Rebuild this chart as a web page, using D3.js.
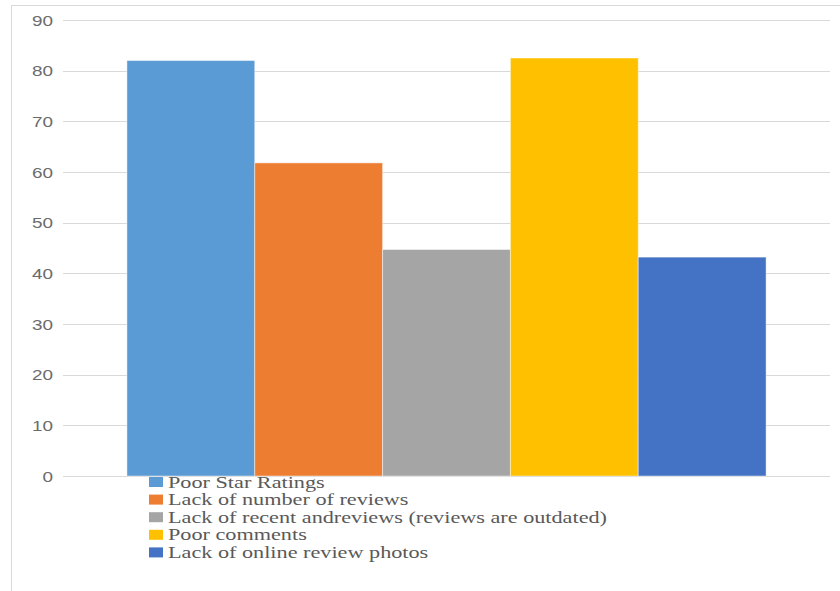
<!DOCTYPE html>
<html>
<head>
<meta charset="utf-8">
<script src="https://cdn.jsdelivr.net/npm/d3@7"></script>
<style>
  html, body { margin: 0; padding: 0; background: #fff; }
  svg { display: block; }
</style>
</head>
<body>
<svg id="chart" width="840" height="591"></svg>
<script>
// Survey responses: reasons for distrusting a business's online reviews
const seriesNames = [
  "Poor Star Ratings",
  "Lack of number of reviews",
  "Lack of recent andreviews (reviews are outdated)",
  "Poor comments",
  "Lack of online review photos"
];
const seriesValues = [82.0, 61.8, 44.7, 82.5, 43.2];
const seriesColors = ["#5B9BD5", "#ED7D31", "#A5A5A5", "#FFC000", "#4472C4"];
const yTicks = [0, 10, 20, 30, 40, 50, 60, 70, 80, 90];

const svg = d3.select("#chart");
const W = 840, H = 591;

// chart-area border (left and top edges visible)
svg.append("rect")
  .attr("x", 11.5).attr("y", 5.5)
  .attr("width", W + 20).attr("height", H + 20)
  .attr("fill", "none").attr("stroke", "#d9d9d9").attr("stroke-width", 1);

const plot = { left: 63, right: 830, top: 20, bottom: 476 };

const y = d3.scaleLinear().domain([0, 90]).range([plot.bottom, plot.top]);

// one category holding five clustered series
const xGroup = d3.scaleBand().domain(["all"]).range([plot.left, plot.right]).paddingInner(0).paddingOuter(0.1);
const xSeries = d3.scaleBand().domain(seriesNames).range([xGroup("all"), xGroup("all") + xGroup.bandwidth()]).padding(0);

// gridlines
const grid = svg.append("g");
grid.selectAll("line").data(yTicks).join("line")
  .attr("x1", plot.left).attr("x2", plot.right)
  .attr("y1", d => Math.round(y(d)) + 0.5).attr("y2", d => Math.round(y(d)) + 0.5)
  .attr("stroke", "#d9d9d9").attr("stroke-width", 1);

// y axis labels
const yAxis = d3.axisLeft(y).tickValues(yTicks).tickSize(0).tickPadding(0);
const yg = svg.append("g").attr("transform", `translate(${plot.left - 10},0)`).call(yAxis);
yg.select(".domain").remove();
yg.selectAll("text")
  .attr("fill", "#6b6b6b")
  .style("font-family", "'Liberation Sans', Arial, sans-serif")
  .style("font-size", "15px")
  .attr("dy", "0.35em")
  .attr("textLength", d => d >= 10 ? 21 : 10.5)
  .attr("lengthAdjust", "spacingAndGlyphs");

// bars
svg.append("g").selectAll("rect").data(seriesNames).join("rect")
  .attr("x", d => xSeries(d))
  .attr("width", xSeries.bandwidth())
  .attr("y", (d, i) => y(seriesValues[i]))
  .attr("height", (d, i) => y(0) - y(seriesValues[i]))
  .attr("fill", (d, i) => seriesColors[i])
  .attr("stroke", "rgba(255,255,255,0.45)")
  .attr("stroke-width", 1);

// legend
const legend = svg.append("g").attr("transform", "translate(149,482)");
const rowH = 17.6;
const items = legend.selectAll("g").data(seriesNames).join("g")
  .attr("transform", (d, i) => `translate(0,${i * rowH})`);
items.append("rect")
  .attr("x", 0).attr("y", -5).attr("width", 14).attr("height", 10)
  .attr("fill", (d, i) => seriesColors[i]);
const labels = items.append("text")
  .attr("x", 19).attr("y", 0).attr("dy", "0.35em")
  .attr("fill", "#595959")
  .style("font-family", "'Liberation Serif', 'Times New Roman', serif")
  .style("font-size", "16px")
  .text(d => d);
// stretch legend text horizontally so the longest label spans 439px
const longest = d3.max(labels.nodes(), n => n.getComputedTextLength());
const k = 439 / longest;
labels.each(function () {
  const len = this.getComputedTextLength();
  d3.select(this).attr("textLength", len * k).attr("lengthAdjust", "spacingAndGlyphs");
});
</script>
</body>
</html>
